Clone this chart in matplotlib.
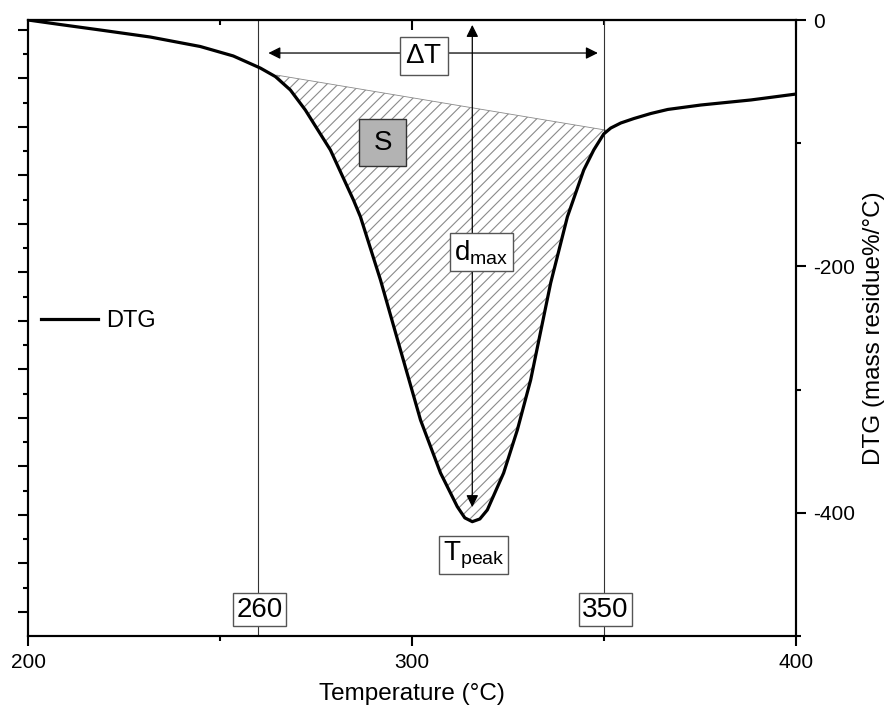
import matplotlib
matplotlib.use("Agg")
import matplotlib.pyplot as plt
from matplotlib.ticker import MultipleLocator, NullFormatter
from matplotlib.patches import Rectangle
import numpy as np

plt.rcParams['font.family'] = ['Liberation Sans', 'DejaVu Sans']
plt.rcParams['mathtext.fontset'] = 'custom'
plt.rcParams['mathtext.rm'] = 'Liberation Sans'
plt.rcParams['mathtext.it'] = 'Liberation Sans'
plt.rcParams['hatch.linewidth'] = 0.8
plt.rcParams['axes.unicode_minus'] = False

# ---- data ----
temperature = [200, 208.34, 218.77, 231.81, 244.85, 253.46, 260.50, 264.41, 268.32, 272.23,
               278.75, 284.75, 286.57, 291.79, 297.0, 302.22, 307.43, 311.79, 313.75, 315.70,
               317.67, 319.61, 323.86, 327.43, 330.90, 336.11, 340.47, 344.72, 347.33, 349.93,
               351.76, 354.37, 357.76, 362.19, 366.62, 375.23, 388.27, 400.0]
dtg = [0, -3.65, -8.1, -13.8, -21.5, -29.2, -39.0, -45.9, -56.8, -73.1,
       -105.5, -146.1, -159.7, -211.0, -267.9, -324.7, -367.7, -395.0, -404.1, -407.2,
       -405.0, -397.7, -367.7, -332.8, -292.2, -213.5, -159.7, -121.8, -105.5, -92.5,
       -87.7, -83.6, -80.0, -75.9, -72.6, -69.0, -64.9, -60.1]

t_start, t_end = 260, 350
base_T = [264.7, 350.5]
base_y = [-44.7, -89.4]
t_peak = 315.7
x_ticks = [200, 300, 400]
y_ticks = [0, -200, -400]

fig = plt.figure(figsize=(8.91, 7.15), dpi=100)
ax = fig.add_axes([28/891, 1-636/715, (796-28)/891, (636-20)/715])

# left axis ticks (no labels) -- create twin first, then move main labels right
ax2 = ax.twinx()
ax.yaxis.tick_right()
ax.yaxis.set_label_position('right')
ax2.yaxis.tick_left()
ax2.set_ylim(-0.495, 12.206)
ax2.yaxis.set_major_locator(MultipleLocator(1))
ax2.yaxis.set_minor_locator(MultipleLocator(0.5))
ax2.yaxis.set_major_formatter(NullFormatter())
ax2.tick_params(which='major', direction='out', length=7, width=1.5, labelleft=False, labelright=False)
ax2.tick_params(which='minor', direction='out', length=3.6, width=1.5)
for s in ax2.spines.values():
    s.set_linewidth(1.5)

ax.set_xlim(200, 400)
ax.set_ylim(-500, 0)

# hatched area S
T = np.array(temperature); Y = np.array(dtg)
mask = (T > base_T[0]) & (T < base_T[1])
poly_x = [base_T[0]] + list(T[mask]) + [base_T[1]]
poly_y = [base_y[0]] + list(Y[mask]) + [base_y[1]]
ax.fill(poly_x, poly_y, facecolor='none', edgecolor='#8a8a8a', hatch='///', lw=0.6, zorder=1)

# vertical boundary lines
for tv in (t_start, t_end):
    ax.axvline(tv, color='#333333', lw=0.8, zorder=1)

# main curve
ax.plot(temperature, dtg, color='black', lw=2.3, label='DTG', zorder=3,
        solid_joinstyle='round')

# arrows
ax.annotate('', xy=(262.6, -26.8), xytext=(348.4, -26.8),
            arrowprops=dict(arrowstyle='<|-|>', color='black', lw=0.9, mutation_scale=18,
                            shrinkA=0, shrinkB=0), zorder=2)
ax.annotate('', xy=(t_peak, -4), xytext=(t_peak, -395.4),
            arrowprops=dict(arrowstyle='<|-|>', color='black', lw=0.9, mutation_scale=18,
                            shrinkA=0, shrinkB=0), zorder=2)

box_w = dict(boxstyle='square,pad=0.12', facecolor='white', edgecolor='#555555', lw=1)
ax.text(303.0, -29.2, r'$\Delta$T', fontsize=20, ha='center', va='center',
        bbox=dict(boxstyle='square,pad=0.2', facecolor='white', edgecolor='#555555', lw=1), zorder=5)
# S label on a grey square
ax.add_patch(Rectangle((286.3, -118.5), 12.2, 38.1, facecolor='#b3b3b3',
                       edgecolor='#333333', lw=1, zorder=5))
ax.text(292.4, -99.6, 'S', fontsize=20, ha='center', va='center', zorder=6)
ax.text(318.1, -188.6, r'd$_{\mathrm{max}}$', fontsize=20, ha='center', va='center',
        bbox=dict(boxstyle='square,pad=0.17', facecolor='white', edgecolor='#555555', lw=1), zorder=5)
ax.text(316.0, -434.6, r'T$_{\mathrm{peak}}$', fontsize=20, ha='center', va='center', bbox=box_w, zorder=5)
ax.text(260.4, -478.5, '260', fontsize=20, ha='center', va='center', bbox=box_w, zorder=5)
ax.text(350.3, -478.5, '350', fontsize=20, ha='center', va='center', bbox=box_w, zorder=5)

# axes styling
for s in ax.spines.values():
    s.set_linewidth(1.5)
ax.set_yticks(y_ticks)
ax.yaxis.set_minor_locator(MultipleLocator(100))
ax.set_xticks(x_ticks)
ax.xaxis.set_minor_locator(MultipleLocator(50))
ax.tick_params(axis='both', which='major', direction='out', length=7, width=1.5, labelsize=15, pad=5)
ax.tick_params(axis='both', which='minor', direction='out', length=3.6, width=1.5)
ax.tick_params(axis='y', left=False, labelleft=False, right=True, labelright=True)
ax.tick_params(axis='y', which='minor', left=False, right=True)
ax.set_xlabel('Temperature (°C)', fontsize=17.5, labelpad=8)
ax.set_ylabel('DTG (mass residue%/°C)', fontsize=17.5, labelpad=6)

# top axis ticks inward
top = ax.secondary_xaxis('top')
top.set_xticks(x_ticks)
top.xaxis.set_minor_locator(MultipleLocator(50))
top.tick_params(which='major', direction='in', length=7, width=1.5, labeltop=False)
top.tick_params(which='minor', direction='in', length=3.6, width=1.5)
top.spines['top'].set_linewidth(1.5)

leg = ax.legend(loc='center left', bbox_to_anchor=((41-28)/768, (636-321)/616),
                frameon=False, fontsize=17, handlelength=2.4, handletextpad=0.35,
                borderpad=0, borderaxespad=0)

fig.savefig('out.png', dpi=100)
